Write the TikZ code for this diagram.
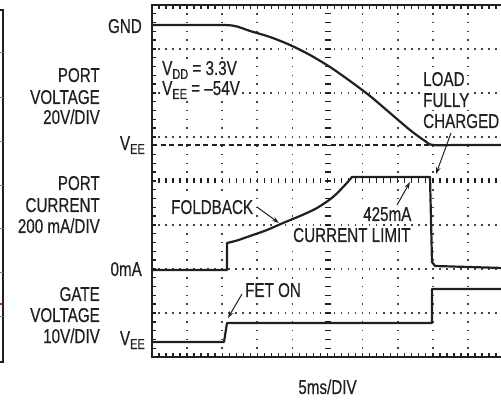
\documentclass[tikz,border=0pt]{standalone}
\usepackage{fontspec}
\setmainfont{Liberation Sans}[FakeStretch=0.76, FakeBold=0.4]
\usetikzlibrary{arrows.meta}
\definecolor{ink}{RGB}{35,31,32}
\definecolor{dotc}{RGB}{70,68,68}
\definecolor{redtick}{RGB}{170,30,60}
\newcommand\sbs[1]{\raisebox{-0.2em}{\fontsize{14.5}{14.5}\selectfont #1}}
\begin{document}
\begin{tikzpicture}[x=1pt,y=-1pt,
  lbl/.style={inner sep=0pt, font=\fontsize{20}{23}\selectfont, text=ink},
  lblr/.style={lbl, anchor=base east},
  lbll/.style={lbl, anchor=base west},
  plotlbl/.style={lbl, anchor=base west, fill=white, inner xsep=2pt, inner ysep=2.5pt},
  trace/.style={draw=ink, line width=2.2pt, line join=round},
  frameline/.style={draw=ink, line width=2pt},
  vgrid/.style={draw=dotc, line width=1.7pt, dash pattern=on 1.7pt off 7.1pt, dash phase=0.85pt},
  hgrid/.style={draw=dotc, line width=1.7pt, dash pattern=on 1.7pt off 5.32pt, dash phase=0.85pt},
  minortick/.style={draw=ink, line width=1.4pt},
  veeline/.style={draw=ink, line width=1.2pt, dash pattern=on 5pt off 3.5pt},
  callout/.style={draw=ink, line width=1pt, -{Stealth[length=7pt,width=4.5pt]}},
  cropline/.style={draw=ink, line width=1.5pt}]
\useasboundingbox (0,0) rectangle (501,406);
\clip (0,0) rectangle (501,406);

% left crop remnant of neighbouring figure
\draw[cropline] (0,10) -- (3,10) -- (3,362) -- (0,362);
\foreach \t in {53,98,142,186,229,273,317} \draw[draw=gray, line width=1pt] (0,\t) -- (3,\t);
\draw[draw=redtick, line width=1.5pt] (0,304) -- (3,304);

% grid
\foreach \i in {1,2,3,4,6,7,8,9} \draw[vgrid] ({152+35.1*\i},5) -- ({152+35.1*\i},357);
\foreach \j in {1,2,3,5,6,7} \draw[hgrid] (152,{5+44*\j}) -- (503,{5+44*\j});
% centre axes with minor ticks
\foreach \k in {1,...,39} \draw[minortick] (325,{5+8.8*\k}) -- (330.5,{5+8.8*\k});
\foreach \k in {1,...,49} \draw[minortick] ({152+7.02*\k},178.5) -- ({152+7.02*\k},183.5);
% frame ticks
\foreach \k in {1,...,39} \draw[minortick] (152,{5+8.8*\k}) -- (156,{5+8.8*\k});
\foreach \k in {1,...,49} \draw[minortick] ({152+7.02*\k},5) -- ({152+7.02*\k},9);
\foreach \k in {1,...,49} \draw[minortick] ({152+7.02*\k},357) -- ({152+7.02*\k},353);
% frame
\draw[frameline] (503,5) -- (152,5) -- (152,357) -- (503,357);
% VEE reference
\draw[veeline] (152,145) -- (503,145);

% in-plot labels (white backing hides the grid)
\node[plotlbl] (nVDD) at (160,75) {V\sbs{DD} = 3.3V};
\node[plotlbl] (nVEEc) at (160,95) {V\sbs{EE} = –54V};
\node[plotlbl] (nLoad1) at (421,86) {LOAD};
\node[plotlbl] (nLoad2) at (421,107) {FULLY};
\node[plotlbl] (nLoad3) at (421,128) {CHARGED};
\node[plotlbl] (nFold) at (169,214) {FOLDBACK};
\node[plotlbl] (n425) at (361,221) {425mA};
\node[plotlbl] (nCL) at (291,242) {CURRENT LIMIT};
\node[plotlbl] (nFET) at (243,297) {FET ON};

% port voltage trace
\draw[trace] plot[smooth, tension=0.5] coordinates {(152,25) (200,25) (232,25.5) (250,31) (270,37) (290,45) (310,55) (330,67) (350,81) (370,96) (390,113) (410,130) (425,141) (433,145) (460,145) (503,145)};
% port current trace
\draw[trace] (152,270) -- (227,270) -- (227,243) -- plot[smooth, tension=0.5] coordinates {(227,243) (237,240.5) (250,236) (267,230) (283,223) (300,216) (317,208) (333,197) (345,185) (352,177)} -- (430,177) -- (432,262) -- (435,266) -- (503,268);
% gate voltage trace
\draw[trace] (152,342) -- (224,342) -- (227,323) -- (432,323) -- (432,289) -- (503,289);

% axis labels
\node[lblr] (nGND) at (142,33) {GND};
\node[lblr] (nPV1) at (100,82) {PORT};
\node[lblr] (nPV2) at (100,104) {VOLTAGE};
\node[lblr] (nPV3) at (100,124) {20V/DIV};
\node[lblr] (nVEEa) at (145,150) {V\sbs{EE}};
\node[lblr] (nPC1) at (100,190) {PORT};
\node[lblr] (nPC2) at (100,212) {CURRENT};
\node[lblr] (nPC3) at (100,233) {200 mA/DIV};
\node[lblr] (nZero) at (142,276) {0mA};
\node[lblr] (nGV1) at (100,301) {GATE};
\node[lblr] (nGV2) at (100,322) {VOLTAGE};
\node[lblr] (nGV3) at (100,343) {10V/DIV};
\node[lblr] (nVEEb) at (145,345) {V\sbs{EE}};
\node[lbl, anchor=base] (nTime) at (327.5,394) {5ms/DIV};

% callout arrows
\coordinate (aLs) at (451,133); \coordinate (aLe) at (436,174);
\coordinate (aFs) at (257,207); \coordinate (aFe) at (279,223);
\coordinate (aCs) at (397,205); \coordinate (aCe) at (410,182);
\coordinate (aGs) at (242,294); \coordinate (aGe) at (228,318);
\draw[callout] (aLs) -- (aLe);
\draw[callout] (aFs) -- (aFe);
\draw[callout] (aCs) -- (aCe);
\draw[callout] (aGs) -- (aGe);
\end{tikzpicture}
\end{document}
